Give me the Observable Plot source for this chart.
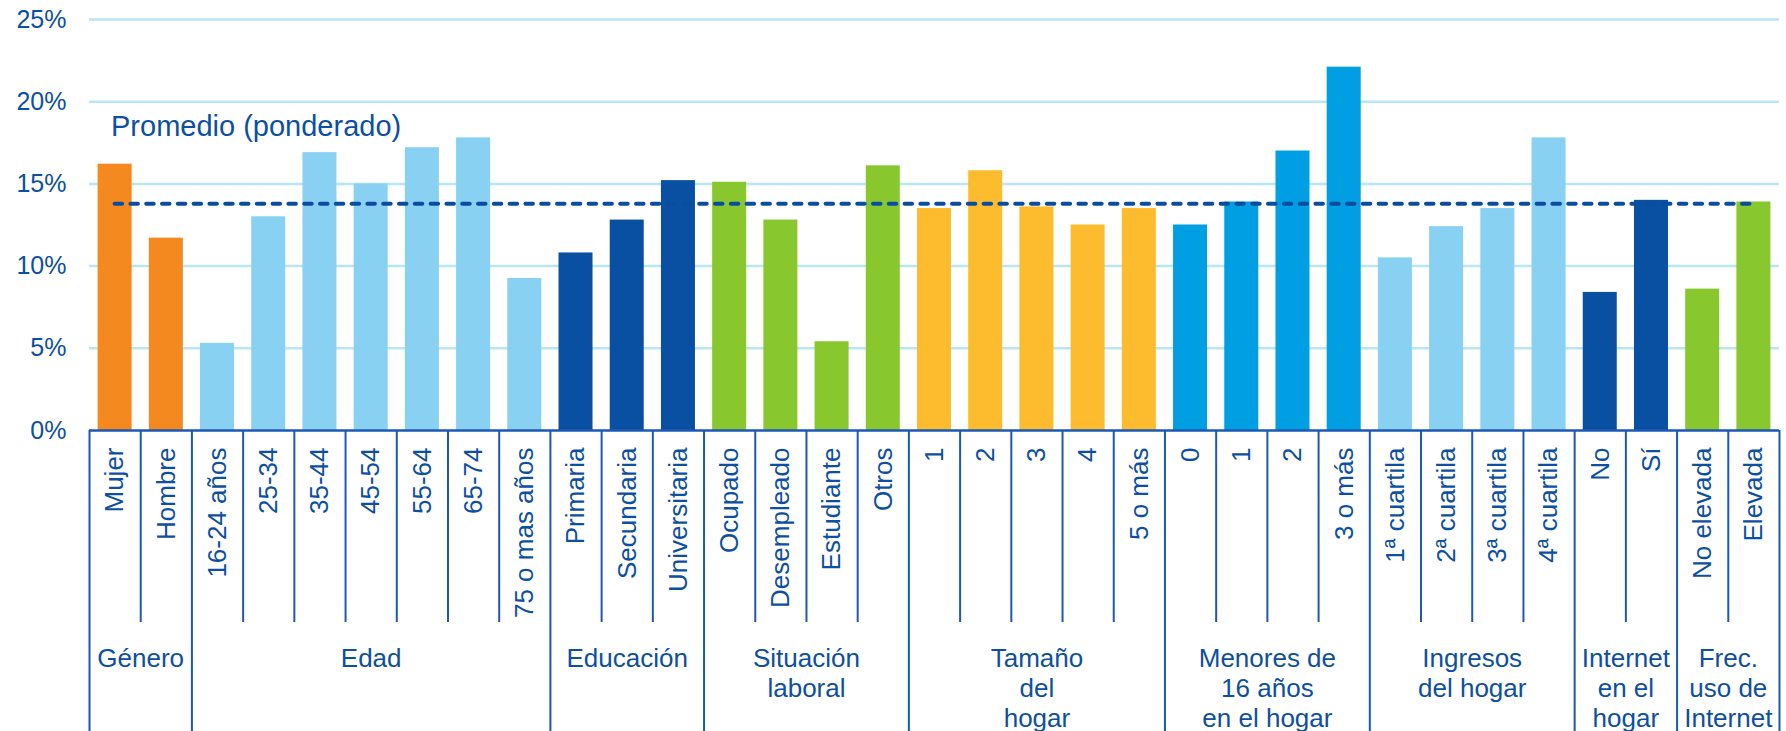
<!DOCTYPE html>
<html>
<head>
<meta charset="utf-8">
<script src="https://cdn.jsdelivr.net/npm/d3@7"></script>
<script src="https://cdn.jsdelivr.net/npm/@observablehq/plot@0.6"></script>
<style>
  html, body { margin: 0; padding: 0; background: #ffffff; }
</style>
</head>
<body>
<div id="chart"></div>
<script>
// ---- Data ----
const categories = [
  "Mujer", "Hombre",
  "16-24 años", "25-34", "35-44", "45-54", "55-64", "65-74", "75 o mas años",
  "Primaria", "Secundaria", "Universitaria",
  "Ocupado", "Desempleado", "Estudiante", "Otros",
  "1", "2", "3", "4", "5 o más",
  "0", "1", "2", "3 o más",
  "1ª cuartila", "2ª cuartila", "3ª cuartila", "4ª cuartila",
  "No", "Sí",
  "No elevada", "Elevada"
];
const values = [
  16.2, 11.7,
  5.3, 13.0, 16.9, 15.0, 17.2, 17.8, 9.25,
  10.8, 12.8, 15.2,
  15.1, 12.8, 5.4, 16.1,
  13.5, 15.8, 13.6, 12.5, 13.5,
  12.5, 13.9, 17.0, 22.1,
  10.5, 12.4, 13.5, 17.8,
  8.4, 14.0,
  8.6, 13.9
];
const groupNames = [
  "Género", "Edad", "Educación", "Situación\nlaboral", "Tamaño\ndel\nhogar",
  "Menores de\n16 años\nen el hogar", "Ingresos\ndel hogar", "Internet\nen el\nhogar",
  "Frec.\nuso de\nInternet"
];
const groupSizes = [2, 7, 3, 4, 5, 4, 4, 2, 2];
const groupColors = [
  "#F4891F", "#89D1F2", "#0A50A2", "#89C72F", "#FDBB2E",
  "#009FE3", "#89D1F2", "#0A50A2", "#89C72F"
];
const average = 13.8;
const averageLabel = "Promedio (ponderado)";
const yTicks = [0, 5, 10, 15, 20, 25];

// ---- Derived tables ----
const n = categories.length;
const groupOf = [];
const groupBoundaries = [0];
const groups = [];
let start = 0;
groupSizes.forEach((s, g) => {
  for (let k = 0; k < s; k++) groupOf.push(groupNames[g]);
  groups.push({label: groupNames[g], mid: start + s / 2});
  start += s;
  groupBoundaries.push(start);
});
const innerBoundaries = d3.range(1, n).filter(b => !groupBoundaries.includes(b));
const rows = categories.map((c, i) => ({i, label: c, value: values[i], group: groupOf[i]}));

const textColor = "#0D4FA3";
const lineColor = "#1C58B4";
const gridColor = "#B8E6F7";

const chart = Plot.plot({
  width: 1786,
  height: 731,
  marginLeft: 89,
  marginRight: 7,
  marginTop: 19,
  marginBottom: 301,
  x: {domain: [0, n]},
  y: {domain: [0, 25]},
  color: {domain: groupNames, range: groupColors},
  style: {
    fontFamily: "'Liberation Sans', Arial, sans-serif",
    fontSize: "26px",
    color: textColor,
    background: "#ffffff",
    overflow: "visible"
  },
  marks: [
    Plot.gridY(yTicks.filter(t => t > 0), {stroke: gridColor, strokeOpacity: 1, strokeWidth: 2.5}),
    Plot.rectY(rows, {
      x1: "i", x2: d => d.i + 1, y: "value", fill: "group",
      insetLeft: 8.6, insetRight: 8.6
    }),
    Plot.ruleY([0], {stroke: lineColor, strokeWidth: 2.5}),
    Plot.ruleY([average], {
      x1: 0.5, x2: n - 0.5, stroke: "#0A4DA0", strokeWidth: 4,
      strokeDasharray: "7.5,8.3", strokeLinecap: "round"
    }),
    Plot.axisY(yTicks, {
      tickSize: 0, tickPadding: 23, tickFormat: d => d + "%",
      fontSize: 25, label: null, fill: textColor
    }),
    Plot.axisX(innerBoundaries, {
      tickSize: 192, tickFormat: () => "", label: null,
      stroke: lineColor, strokeWidth: 2
    }),
    Plot.axisX(groupBoundaries, {
      tickSize: 301, tickFormat: () => "", label: null,
      stroke: lineColor, strokeWidth: 2
    }),
    Plot.text(rows, {
      x: d => d.i + 0.5, text: "label", frameAnchor: "bottom",
      rotate: -90, textAnchor: "end", lineAnchor: "middle",
      dy: 17, fontSize: 26, fill: textColor
    }),
    Plot.text(groups, {
      x: "mid", text: "label", frameAnchor: "bottom", lineAnchor: "top",
      dy: 215, fontSize: 26, lineHeight: 1.154, fill: textColor
    }),
    Plot.text([averageLabel], {
      x: 0.42, y: 18.5, text: d => d, textAnchor: "start",
      lineAnchor: "middle", fontSize: 29, fill: textColor
    })
  ]
});
document.getElementById("chart").appendChild(chart);
</script>
</body>
</html>
